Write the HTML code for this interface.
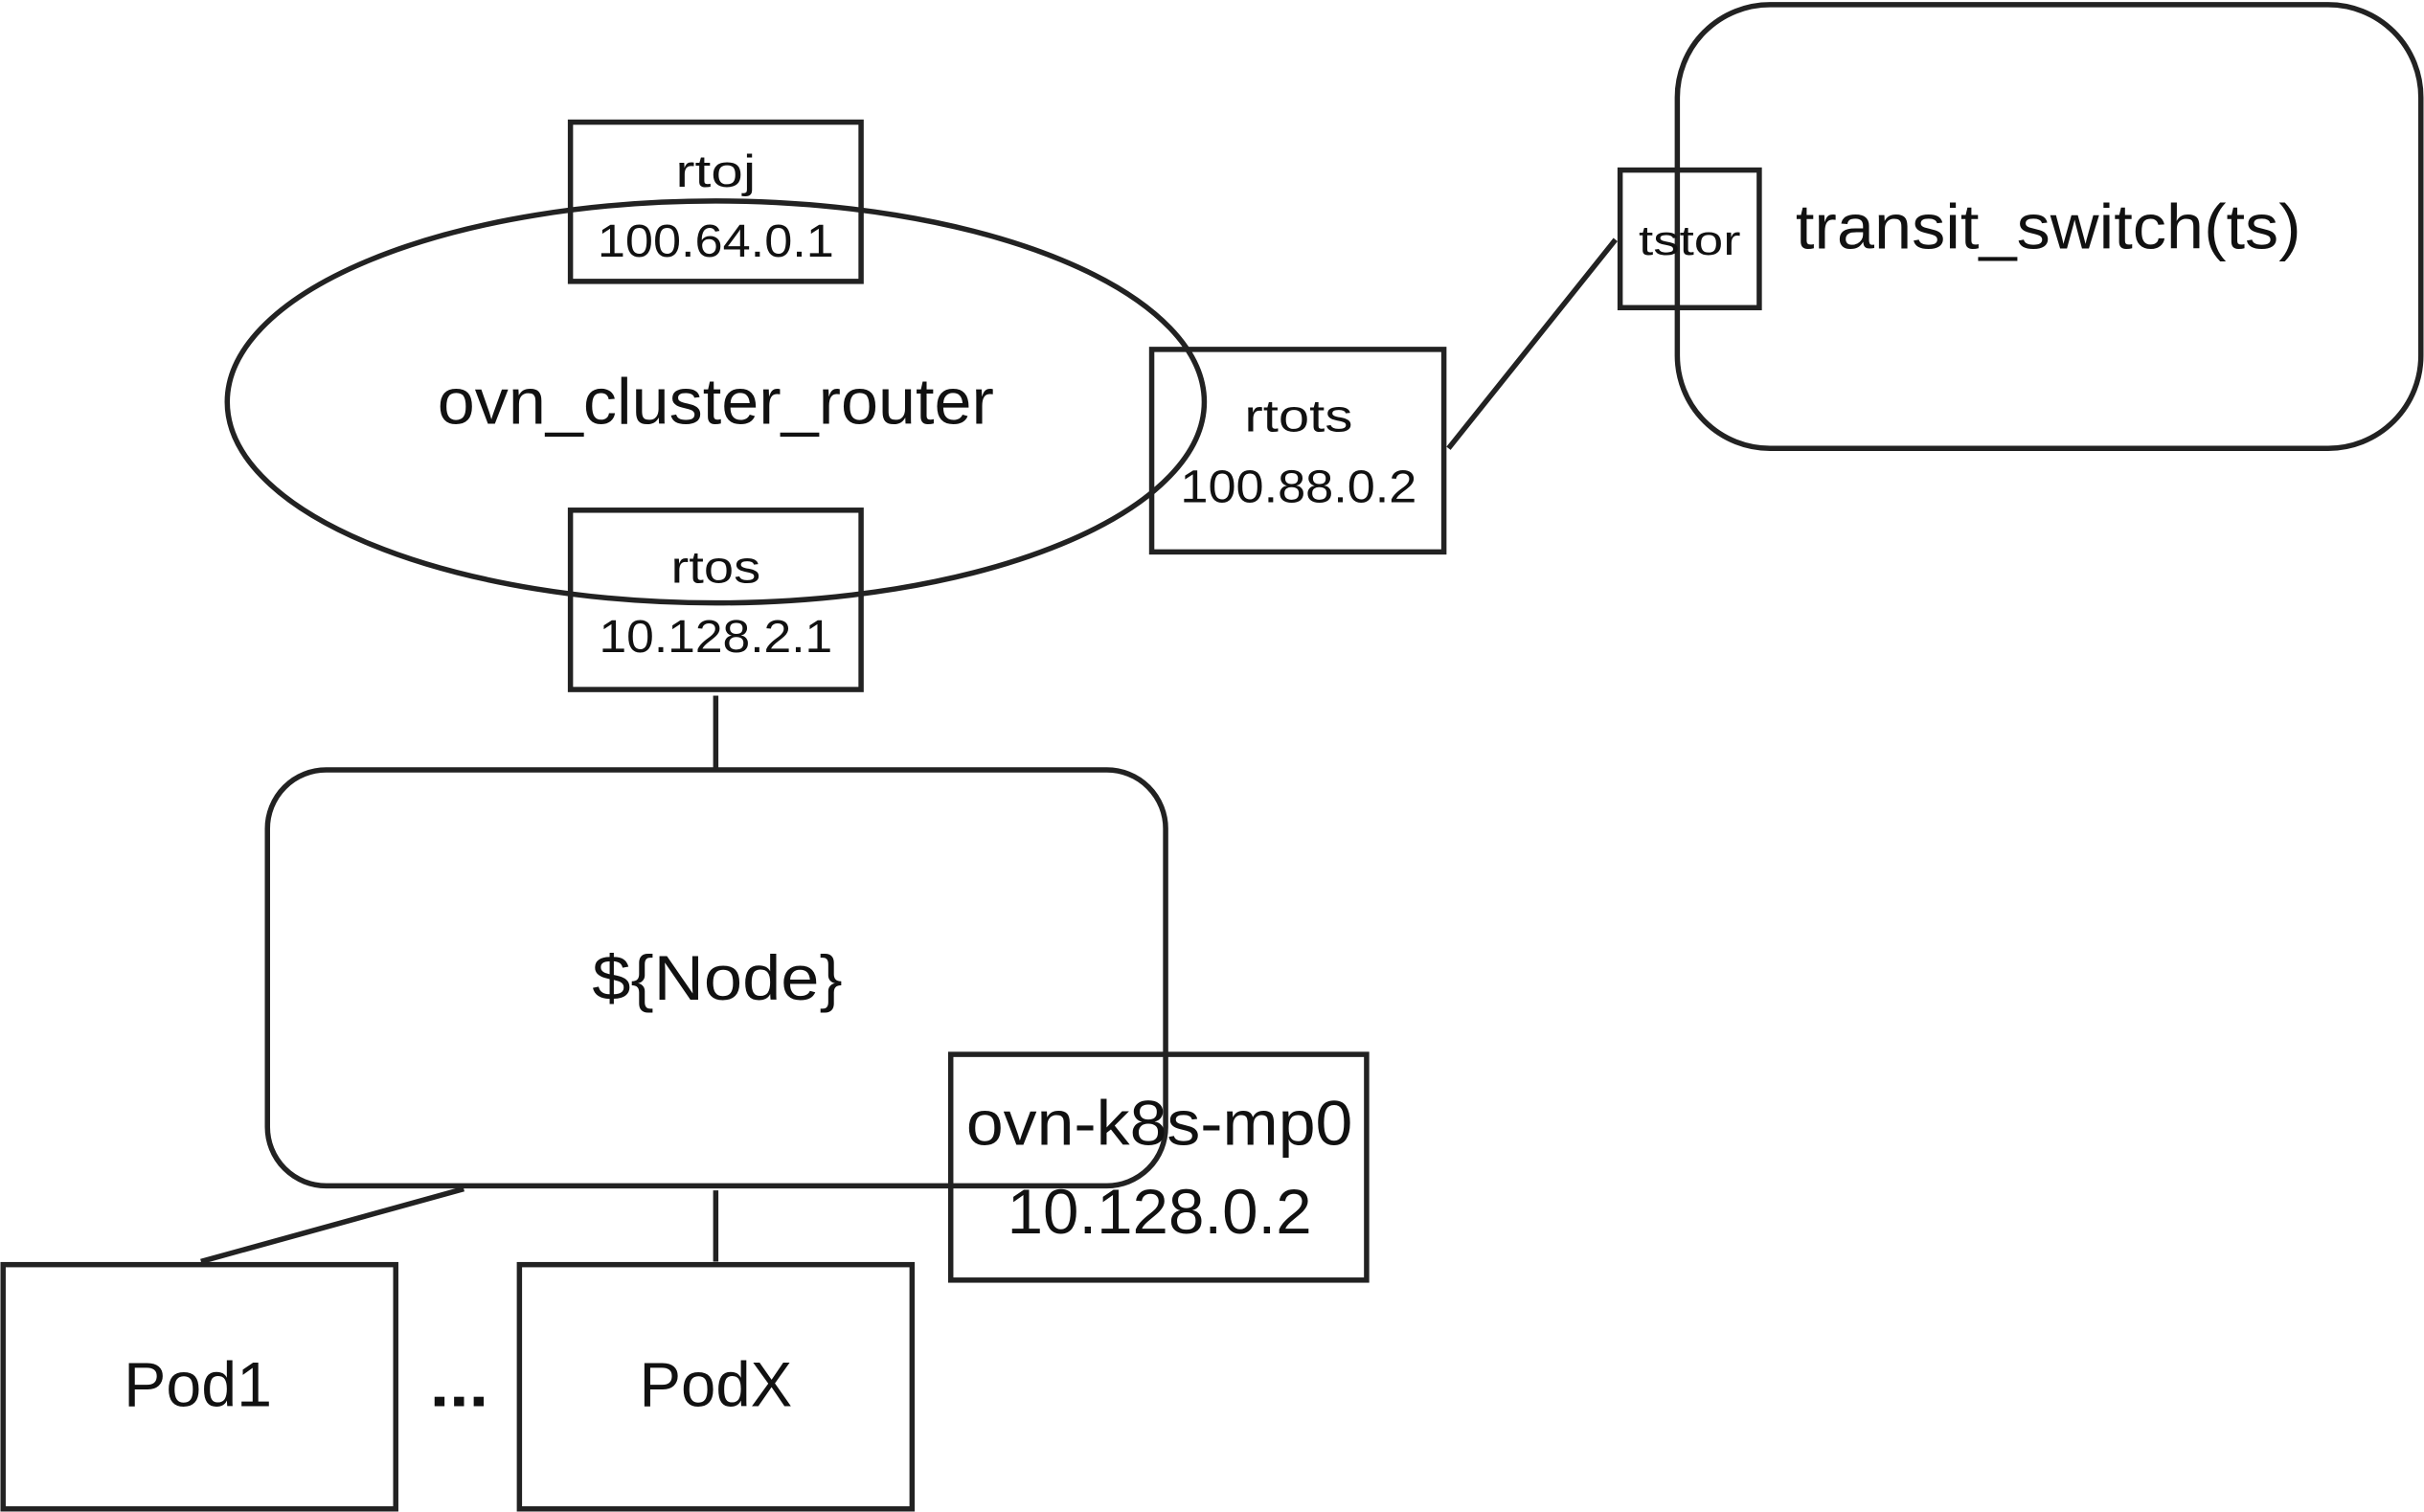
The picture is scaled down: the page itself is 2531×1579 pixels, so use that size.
<!DOCTYPE html>
<html><head><meta charset="utf-8"><style>
html,body{margin:0;padding:0;background:#fff;}
svg{display:block;}
text{font-family:"Liberation Sans",sans-serif;fill:#111;text-anchor:middle;dominant-baseline:central;}
</style></head><body>
<svg width="2531" height="1579" viewBox="0 0 1568 978" preserveAspectRatio="none" xmlns="http://www.w3.org/2000/svg">
<g fill="none" stroke="#222" stroke-width="3.4">
<ellipse cx="463" cy="260" rx="316" ry="130"/>
<rect x="369" y="79" width="188" height="103"/>
<rect x="369" y="330" width="188" height="116"/>
<rect x="745" y="226" width="189" height="131"/>
<line x1="937" y1="290" x2="1045" y2="155"/>
<rect x="1085" y="3" width="481" height="287" rx="60"/>
<rect x="1048" y="110" width="90" height="89"/>
<line x1="463" y1="450" x2="463" y2="497"/>
<rect x="173" y="498" width="581" height="269" rx="38"/>
<rect x="615" y="682" width="269" height="146"/>
<line x1="300" y1="769" x2="130" y2="816"/>
<line x1="463" y1="770" x2="463" y2="816"/>
<rect x="2" y="818" width="254" height="158"/>
<rect x="336" y="818" width="254" height="158"/>
</g>
<text x="463" y="111" font-size="29" textLength="52" lengthAdjust="spacingAndGlyphs">rtoj</text>
<text x="463" y="156" font-size="30" textLength="153" lengthAdjust="spacingAndGlyphs">100.64.0.1</text>
<text x="463" y="367" font-size="29" textLength="58" lengthAdjust="spacingAndGlyphs">rtos</text>
<text x="463" y="412" font-size="30" textLength="151" lengthAdjust="spacingAndGlyphs">10.128.2.1</text>
<text x="840" y="269" font-size="29" textLength="70" lengthAdjust="spacingAndGlyphs">rtots</text>
<text x="840" y="315" font-size="30" textLength="153" lengthAdjust="spacingAndGlyphs">100.88.0.2</text>
<text x="463" y="260" font-size="42" textLength="360" lengthAdjust="spacingAndGlyphs">ovn_cluster_router</text>
<text x="1325" y="147" font-size="41" textLength="327" lengthAdjust="spacingAndGlyphs">transit_switch(ts)</text>
<text x="1093" y="156" font-size="27" textLength="66" lengthAdjust="spacingAndGlyphs">tstor</text>
<text x="464" y="633" font-size="41" textLength="162" lengthAdjust="spacingAndGlyphs">${Node}</text>
<text x="750" y="727" font-size="41" textLength="250" lengthAdjust="spacingAndGlyphs">ovn-k8s-mp0</text>
<text x="750" y="784" font-size="41" textLength="197" lengthAdjust="spacingAndGlyphs">10.128.0.2</text>
<text x="128" y="896" font-size="41" textLength="96" lengthAdjust="spacingAndGlyphs">Pod1</text>
<text x="463" y="896" font-size="41" textLength="99" lengthAdjust="spacingAndGlyphs">PodX</text>
<text x="297" y="896" font-size="41" font-weight="bold" textLength="38" lengthAdjust="spacingAndGlyphs">...</text>
</svg>
</body></html>
